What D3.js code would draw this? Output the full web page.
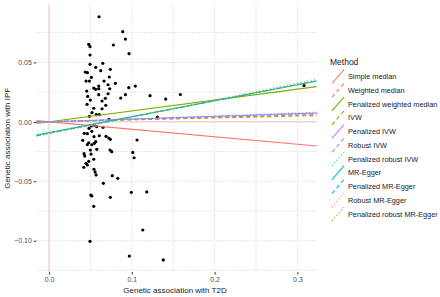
<!DOCTYPE html>
<html>
<head>
<meta charset="utf-8">
<script src="https://cdn.jsdelivr.net/npm/d3@7"></script>
<style>
  html, body { margin: 0; padding: 0; background: #fff; }
  svg { display: block; font-family: "Liberation Sans", Arial, sans-serif; }
</style>
</head>
<body>
<div id="chart"></div>
<script>
// SNP-level associations (x: T2D, y: IPF)
const snpX = [0.0604, 0.0890, 0.0922, 0.0479, 0.0495, 0.0777, 0.0966, 0.0495, 0.0649, 0.0495,
  0.0564, 0.0740, 0.0624, 0.0438, 0.0463, 0.0728, 0.0511, 0.0447, 0.0487, 0.0664,
  0.0801, 0.0713, 0.0600, 0.0600, 0.0540, 0.0564, 0.1042, 0.0963, 0.0455, 0.0733,
  0.0713, 0.0600, 0.0922, 0.0467, 0.1220, 0.0866, 0.0499, 0.0680, 0.0640, 0.0685,
  0.0459, 0.0540, 0.0640, 0.0519, 0.0571, 0.0607, 0.0487, 0.0725, 0.0511, 0.0483,
  0.0543, 0.0576, 0.0652, 0.0426, 0.0463, 0.0516, 0.0543, 0.0607, 0.0688, 0.0721,
  0.0740, 0.1063, 0.0407, 0.0479, 0.0463, 0.0516, 0.0564, 0.0547, 0.0499, 0.0576,
  0.0423, 0.0431, 0.0507, 0.0479, 0.0447, 0.0463, 0.0419, 0.0540, 0.0737, 0.0757,
  0.1011, 0.1027, 0.0543, 0.0556, 0.0568, 0.0764, 0.0830, 0.0656, 0.0994, 0.1180,
  0.0504, 0.0516, 0.0740, 0.0540, 0.1132, 0.0495, 0.0970, 0.1409, 0.1586, 0.3080,
  0.1380, 0.1308];
const snpY = [0.0884, 0.0758, 0.0696, 0.0652, 0.0632, 0.0646, 0.0573, 0.0562, 0.0492, 0.0484,
  0.0458, 0.0442, 0.0430, 0.0419, 0.0413, 0.0377, 0.0374, 0.0343, 0.0343, 0.0343,
  0.0324, 0.0312, 0.0301, 0.0278, 0.0284, 0.0273, 0.0301, 0.0287, 0.0259, 0.0278,
  0.0236, 0.0228, 0.0228, 0.0214, 0.0220, 0.0200, 0.0183, 0.0198, 0.0175, 0.0139,
  0.0147, 0.0114, 0.0110, 0.0077, 0.0060, 0.0060, 0.0046, 0.0021, -0.0035, -0.0055,
  -0.0029, -0.0041, -0.0046, -0.0097, -0.0100, -0.0080, -0.0125, -0.0117, -0.0122, -0.0136,
  -0.0147, -0.0153, -0.0156, -0.0176, -0.0191, -0.0193, -0.0167, -0.0181, -0.0237, -0.0231,
  -0.0268, -0.0288, -0.0271, -0.0332, -0.0349, -0.0363, -0.0383, -0.0315, -0.0237, -0.0251,
  -0.0257, -0.0302, -0.0399, -0.0422, -0.0447, -0.0453, -0.0475, -0.0517, -0.0593, -0.0590,
  -0.0616, -0.0623, -0.0635, -0.0711, -0.0910, -0.1005, -0.1129, 0.0191, 0.0230, 0.0305,
  -0.1162, 0.0040];

// Method estimates
const methods = ['Simple median', 'Weighted median', 'Penalized weighted median', 'IVW',
  'Penalized IVW', 'Robust IVW', 'Penalized robust IVW', 'MR-Egger', 'Penalized MR-Egger',
  'Robust MR-Egger', 'Penalized robust MR-Egger'];
const slopes     = [-0.063, 0.019, 0.0915, 0.0164, 0.0225, 0.0220, 0.0250, 0.1343, 0.1360, 0.1420, 0.1380];
const intercepts = [0, 0, 0, 0, 0, 0, 0, -0.0091, -0.0095, -0.0100, -0.0098];
const methodColors = ['#F8766D', '#F8766D', '#7CAE00', '#7CAE00', '#C77CFF', '#C77CFF',
  '#00BFC4', '#00BFC4', '#00BFC4', '#F8766D', '#7CAE00'];
const methodDash = ['', '4,3', '', '4,3', '', '4,3', '1,2.5', '', '4,3', '1,2.5', '1,2.5'];

const xTicks = [0, 0.1, 0.2, 0.3];
const xMinor = [0.05, 0.15, 0.25];
const yTicks = [-0.10, -0.05, 0, 0.05];
const yMinor = [-0.125, -0.075, -0.025, 0.025, 0.075];

const W = 440, H = 297;
const panel = { left: 36.3, right: 316.8, top: 4.6, bottom: 272.1 };

const svg = d3.select('#chart').append('svg')
  .attr('width', W).attr('height', H);

const x = d3.scaleLinear().domain([-0.0154, 0.3234]).range([panel.left, panel.right]);
const y = d3.scaleLinear().domain([-0.1264, 0.0986]).range([panel.bottom, panel.top]);

svg.append('defs').append('clipPath').attr('id', 'panel-clip')
  .append('rect')
  .attr('x', panel.left).attr('y', panel.top)
  .attr('width', panel.right - panel.left).attr('height', panel.bottom - panel.top);

// grid
const grid = svg.append('g').attr('class', 'grid')
  .attr('stroke', '#d6d6d6').attr('stroke-width', 0.8).attr('stroke-dasharray', '1.5,1.5');
grid.selectAll('.gx').data(xTicks.concat(xMinor)).enter().append('line')
  .attr('x1', d => x(d)).attr('x2', d => x(d))
  .attr('y1', panel.top).attr('y2', panel.bottom);
grid.selectAll('.gy').data(yTicks.concat(yMinor)).enter().append('line')
  .attr('x1', panel.left).attr('x2', panel.right)
  .attr('y1', d => y(d)).attr('y2', d => y(d));

// reference lines at zero
svg.append('line')
  .attr('x1', x(0)).attr('x2', x(0)).attr('y1', panel.top).attr('y2', panel.bottom)
  .attr('stroke', '#f6c4c0').attr('stroke-width', 1);
svg.append('line')
  .attr('x1', panel.left).attr('x2', panel.right).attr('y1', y(0)).attr('y2', y(0))
  .attr('stroke', '#f6c4c0').attr('stroke-width', 1);

// points
const pts = snpX.map((v, i) => ({ x: v, y: snpY[i] }));
svg.append('g').selectAll('circle').data(pts).enter().append('circle')
  .attr('cx', d => x(d.x)).attr('cy', d => y(d.y)).attr('r', 1.6)
  .attr('fill', '#000');

// method lines
const [x0, x1] = x.domain();
svg.append('g').attr('clip-path', 'url(#panel-clip)')
  .selectAll('line').data(methods).enter().append('line')
  .attr('x1', x(x0)).attr('x2', x(x1))
  .attr('y1', (d, i) => y(intercepts[i] + slopes[i] * x0))
  .attr('y2', (d, i) => y(intercepts[i] + slopes[i] * x1))
  .attr('stroke', (d, i) => methodColors[i])
  .attr('stroke-width', 1.1)
  .attr('stroke-dasharray', (d, i) => methodDash[i] || null);

// axes
const xAxis = svg.append('g').attr('transform', `translate(0,${panel.bottom})`)
  .call(d3.axisBottom(x).tickValues(xTicks).tickFormat(d3.format('.1f')).tickSize(2.5).tickPadding(2));
const yAxis = svg.append('g').attr('transform', `translate(${panel.left},0)`)
  .call(d3.axisLeft(y).tickValues(yTicks).tickFormat(d3.format('.2f')).tickSize(2.5).tickPadding(2));
[xAxis, yAxis].forEach(a => {
  a.select('.domain').remove();
  a.selectAll('.tick line').attr('stroke', '#333');
  a.selectAll('.tick text').attr('fill', '#4d4d4d').attr('font-size', 7)
    .attr('font-family', '"Liberation Sans", Arial, sans-serif');
});

svg.append('text')
  .attr('x', 175).attr('y', 293)
  .attr('text-anchor', 'middle').attr('font-size', 8).attr('fill', '#1a1a1a')
  .text('Genetic association with T2D');
svg.append('text')
  .attr('transform', `translate(10,${(panel.top + panel.bottom) / 2}) rotate(-90)`)
  .attr('text-anchor', 'middle').attr('font-size', 8).attr('fill', '#1a1a1a')
  .text('Genetic association with IPF');

// legend
const legend = svg.append('g').attr('transform', 'translate(330,0)');
legend.append('text').attr('x', 0).attr('y', 65)
  .attr('font-size', 8.5).attr('fill', '#1a1a1a').text('Method');
const rowH = 13.73;
const rows = legend.selectAll('.row').data(methods).enter().append('g')
  .attr('transform', (d, i) => `translate(0,${76.7 + i * rowH})`);
rows.append('line')
  .attr('x1', 2).attr('y1', 6.8).attr('x2', 14).attr('y2', -7)
  .attr('stroke', (d, i) => methodColors[i]).attr('stroke-width', 1.1)
  .attr('stroke-dasharray', (d, i) => methodDash[i] || null);
rows.append('text').attr('x', 18).attr('y', 2.6)
  .attr('font-size', 7.3).attr('fill', '#1a1a1a').text(d => d);
</script>
</body>
</html>
